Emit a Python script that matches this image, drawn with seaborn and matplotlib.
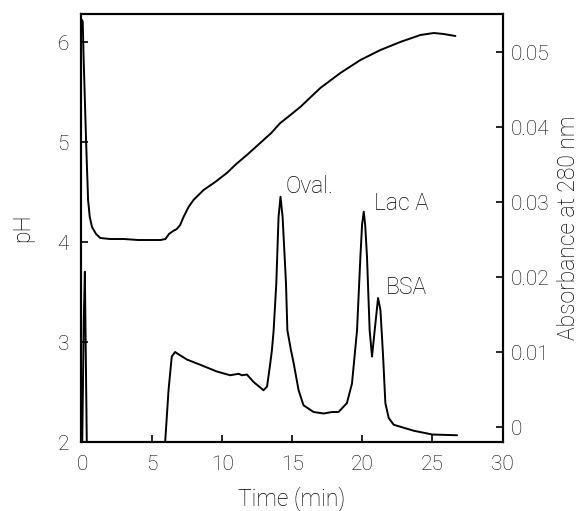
import matplotlib
matplotlib.use("Agg")
import matplotlib.pyplot as plt
import seaborn as sns
import pandas as pd

# pH trace
ph_time = [0, 0.05, 0.1, 0.29, 0.43, 0.55, 0.71, 1.0, 1.3, 2, 3, 4, 5, 5.6, 5.95,
           6.2, 6.5, 6.76, 7.0, 7.24, 7.6, 7.95, 8.67, 9.5, 10.33, 11.0, 11.76,
           12.71, 13.5, 14.14, 14.6, 15.57, 17.0, 18.43, 19.86, 21.29, 22.7,
           24.14, 25.1, 25.8, 26.64]
ph_value = [6.22, 6.2, 5.9, 5.0, 4.42, 4.25, 4.15, 4.08, 4.04, 4.03, 4.03, 4.02,
            4.02, 4.02, 4.03, 4.08, 4.11, 4.13, 4.17, 4.25, 4.35, 4.42, 4.52, 4.6,
            4.69, 4.78, 4.87, 4.99, 5.09, 5.19, 5.24, 5.35, 5.54, 5.69, 5.82, 5.92,
            6.0, 6.07, 6.09, 6.08, 6.06]

# Absorbance trace (values below the axis are off-scale)
abs_time = [0.0, 0.12, 0.2, 0.35, 1, 3, 5, 5.93, 6.17, 6.4, 6.64, 6.88, 7.48, 8.43,
            9.62, 10.57, 11.17, 11.4, 11.76, 12.24, 12.95, 13.2, 13.43, 13.55, 13.67,
            13.86, 14.02, 14.16, 14.31, 14.55, 14.65, 14.9, 15.1, 15.45, 15.8, 16.52,
            17.24, 17.83, 18.3, 18.9, 19.26, 19.62, 19.86, 19.98, 20.1, 20.2, 20.33,
            20.52, 20.69, 20.88, 21.12, 21.29, 21.48, 21.64, 21.88, 22.24, 23.67,
            25.0, 26.76]
abs_value = [-0.004, 0.014, 0.0207, -0.004, -0.004, -0.004, -0.004, -0.002, 0.0049,
             0.0094, 0.0100, 0.0097, 0.0090, 0.0083, 0.0074, 0.0069, 0.0071, 0.0069,
             0.0070, 0.0060, 0.0049, 0.0054, 0.0085, 0.0103, 0.0129, 0.0192, 0.028,
             0.0307, 0.028, 0.0192, 0.0129, 0.0103, 0.0085, 0.0049, 0.0029, 0.0020,
             0.0018, 0.0020, 0.0020, 0.0032, 0.0058, 0.0129, 0.0227, 0.027, 0.0287,
             0.027, 0.0227, 0.0129, 0.0094, 0.0129, 0.0172, 0.0156, 0.0094, 0.0032,
             0.0012, 0.0003, -0.0005, -0.001, -0.0011]

peak_labels = ["Oval.", "Lac A", "BSA"]
peak_label_time = [14.5, 20.8, 21.64]
peak_label_abs = [0.0312, 0.0289, 0.0178]

x_ticks = [0, 5, 10, 15, 20, 25, 30]
ph_ticks = [2, 3, 4, 5, 6]
abs_ticks = [0, 0.01, 0.02, 0.03, 0.04, 0.05]
abs_tick_labels = ["0", "0.01", "0.02", "0.03", "0.04", "0.05"]

sns.set_style("ticks")
plt.rcParams["font.family"] = ["Roboto", "DejaVu Sans"]
plt.rcParams["font.weight"] = "light"
plt.rcParams["axes.labelweight"] = "light"
plt.rcParams["text.color"] = "black"
plt.rcParams["axes.labelcolor"] = "black"

fig = plt.figure(figsize=(5.85, 5.11), dpi=100)
ax = fig.add_axes([0.1393, 0.135, 0.7197, 0.8376])
ax2 = ax.twinx()

df_ph = pd.DataFrame({"t": ph_time, "ph": ph_value})
df_abs = pd.DataFrame({"t": abs_time, "a": abs_value})

sns.lineplot(data=df_ph, x="t", y="ph", ax=ax, color="black", lw=1.4, sort=False)
sns.lineplot(data=df_abs, x="t", y="a", ax=ax2, color="black", lw=1.4, sort=False)

ax.set_xlim(-0.04, 30)
ax.set_ylim(2.0, 6.28)
ax2.set_ylim(-0.002, 0.05507)

ax.set_xticks(x_ticks)
ax.set_xticklabels([str(v) for v in x_ticks])
ax.set_yticks(ph_ticks)
ax.set_yticklabels([str(v) for v in ph_ticks])
ax2.set_yticks(abs_ticks)
ax2.set_yticklabels(abs_tick_labels)

fs_tick = 15
fs_lab = 16.5
ax.tick_params(axis="both", direction="in", length=5, width=1.2, labelsize=fs_tick,
               pad=9, colors="black")
ax.tick_params(axis="x", pad=9)
ax2.tick_params(axis="y", direction="in", length=5, width=1.2, labelsize=fs_tick,
                pad=6, colors="black")

ax.set_xlabel("Time (min)", fontsize=fs_lab, labelpad=9, color="black",
              fontweight="light")
ax.set_ylabel("pH", fontsize=fs_lab, labelpad=17, color="black", fontweight="light")
ax2.set_ylabel("Absorbance at 280 nm", fontsize=fs_lab, labelpad=5, color="black",
               fontweight="light")

for s in ["left", "right", "top", "bottom"]:
    ax.spines[s].set_visible(True)
    ax.spines[s].set_linewidth(1.5)
    ax.spines[s].set_color("black")
    ax2.spines[s].set_linewidth(1.5)
    ax2.spines[s].set_color("black")

for lab, tx, ty in zip(peak_labels, peak_label_time, peak_label_abs):
    ax2.text(tx, ty, lab, fontsize=fs_lab, ha="left", va="baseline", color="black",
             fontweight="light")

fig.savefig("out.png", dpi=100)
